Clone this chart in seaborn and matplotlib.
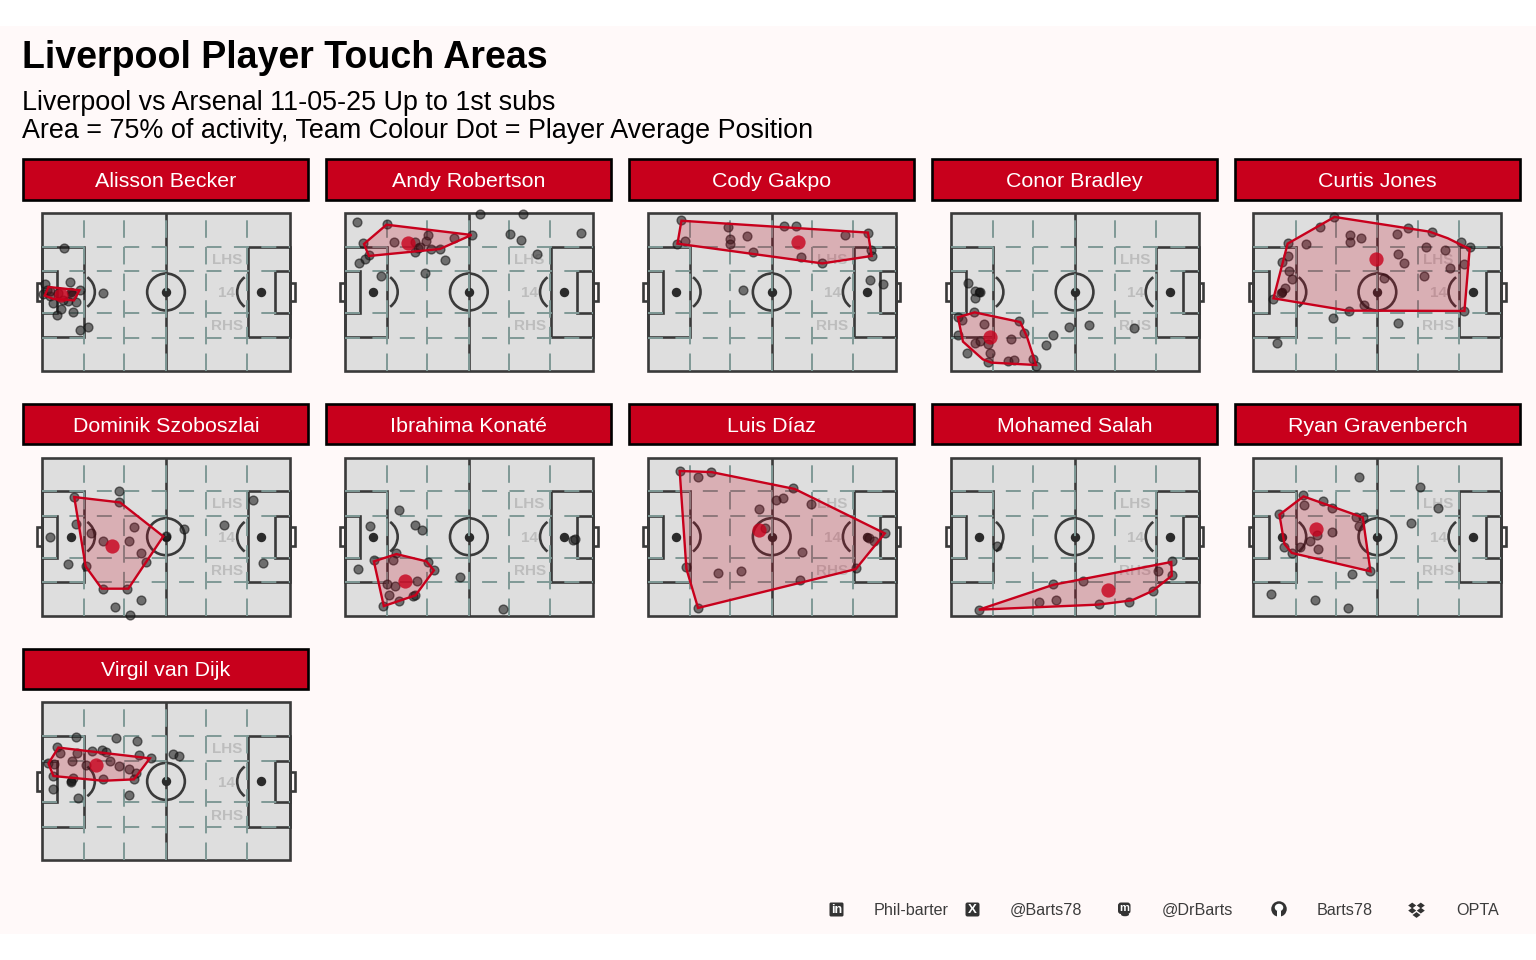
import matplotlib
matplotlib.use("Agg")
import matplotlib.pyplot as plt
import pandas as pd
import seaborn as sns
from matplotlib.patches import Arc, Ellipse, FancyBboxPatch, Polygon, Rectangle

# values, pitch is 0-100 both ways
players = ["Alisson Becker", "Andy Robertson", "Cody Gakpo", "Conor Bradley", "Curtis Jones",
           "Dominik Szoboszlai", "Ibrahima Konaté", "Luis Díaz", "Mohamed Salah", "Ryan Gravenberch",
           "Virgil van Dijk"]

alisson = [(8.9, 77.6), (11.3, 56.5), (24.5, 49.2), (15.3, 51.5), (1.3, 55.3), (0.3, 48.9), (3.2, 47.3),
           (5.9, 35.7), (7.5, 39.2), (12.6, 37.1), (13.7, 43.5), (15.3, 25.9), (18.5, 27.6), (4.6, 43),
           (10.6, 44.1), (8.6, 45.1), (1.9, 51.5), (6.6, 49.4), (12, 48.3), (3.2, 50.4)]
robertson = [(5.1, 94.1), (16.9, 93), (7.4, 80.8), (9.8, 73.4), (8.1, 70.7), (5.6, 68.6), (14.5, 60.1),
             (32.4, 62.2), (40.3, 70.3), (20, 81.6), (28.2, 81.9), (28.2, 75.5), (29.6, 77.6), (30.2, 78.7),
             (32.9, 82.3), (33.5, 85.9), (34.9, 77.4), (38.3, 77.4), (44, 84.2), (51.3, 86.1), (54.6, 99.6),
             (71.9, 99.6), (66.4, 86.9), (71, 82.9), (95.2, 87.1), (77.6, 74.3)]
gakpo = [(13.3, 95.6), (14.9, 82.5), (11.7, 80.4), (32.4, 90.9), (33.1, 83.3), (33.1, 80.4), (40.2, 85.2),
         (42.3, 75.1), (55.1, 92), (59.8, 92), (61.7, 72.4), (70.4, 68.1), (79.6, 86.1), (88.8, 87.6),
         (90.2, 76.6), (90.6, 72.8), (89.6, 57.6), (94.9, 54.9), (38.6, 51.3)]
bradley = [(7, 55.5), (9.9, 50.8), (11.7, 49.8), (9.7, 46), (9.4, 37.6), (3, 34), (4.6, 32.3), (13.6, 29.7),
           (27.4, 31.9), (29.6, 23.8), (3, 22.8), (9.9, 17.9), (11.7, 18.8), (15.1, 17.1), (24.2, 20),
           (16, 11.2), (6.6, 11.6), (15.1, 5.5), (23.1, 6.3), (25.4, 7), (33.2, 7.8), (34.5, 3.2), (38.3, 16.2),
           (41.5, 23), (47.6, 27.8), (56, 28.9), (73.8, 27.2)]
jones = [(32.3, 97.7), (27, 91.4), (14, 80.8), (21.2, 80.2), (13.8, 73), (11.6, 68.8), (14.4, 63.5), (15.5, 58),
         (12.8, 52.3), (11.2, 49.6), (7.9, 45.8), (39.1, 86.1), (38.8, 81.9), (43.5, 84.2), (58.1, 86.9),
         (62.5, 90.7), (71.9, 88.2), (83.7, 81.5), (87.4, 78.3), (69.6, 78.7), (77.4, 76.8), (58.3, 73.8),
         (60.6, 68.4), (85.1, 67.5), (79.3, 65), (68.7, 60.4), (52.8, 58.9), (38.6, 38), (44.5, 41.6),
         (84.9, 38), (32, 33.5), (58.2, 30.6), (9.4, 17.9)]
szoboszlai = [(31.2, 79.1), (30.9, 71.9), (13, 75.1), (13.8, 58.2), (19.6, 52.5), (3.2, 49.6), (24.7, 47),
              (35.1, 47), (37.1, 56.1), (39.9, 39.7), (41.9, 33.8), (57.3, 54.9), (49.9, 50.2), (10.6, 32.7),
              (17.7, 31.2), (24.7, 17.1), (34.4, 17.1), (39.8, 9.7), (29.4, 5.7), (35.3, 0.6), (73.3, 57.6),
              (84.9, 73), (89.2, 33.1)]
konate = [(21.8, 66.9), (10.2, 56.5), (28.4, 57.4), (31.2, 54.2), (20.8, 39.7), (19.4, 35), (11.8, 35), (5.4, 29.3),
          (33.7, 34), (35.9, 28.9), (46.4, 24.3), (28.9, 21.9), (17.1, 19.8), (20.2, 18.6), (17.7, 13.3),
          (21.9, 9.1), (27.3, 12.2), (28.2, 12.9), (15.5, 6.1), (63.6, 4.2), (91.8, 47.9), (92.9, 48.5)]
diaz = [(12.9, 91.6), (20.2, 87.6), (25.7, 90.9), (58.5, 80.8), (54.6, 74.3), (51.9, 73.4), (66, 70.5), (44.9, 67.3),
        (47.2, 55.5), (95.8, 52.1), (89.1, 49.2), (91.1, 47), (62.2, 40.1), (83.9, 30.2), (61.3, 22.8), (37.5, 28.1),
        (28.5, 26.8), (15.5, 30.8), (20.3, 4.9)]
salah = [(18.8, 43.9), (89.2, 34.4), (83.6, 28.1), (89.2, 25.5), (81.6, 15.8), (71.8, 8.6), (59.8, 7.4), (53.4, 21.7),
         (41.5, 20), (35.6, 8.6), (42.7, 10.1), (11.4, 3.8)]
gravenberch = [(42.5, 88), (67.1, 81.6), (74.3, 68.1), (63.4, 58.4), (20.2, 76.2), (20.6, 69.8), (28, 72.4),
               (31.7, 68.1), (10.5, 64.3), (41.3, 62.2), (44, 62.2), (42.7, 57), (31.7, 53.2), (25.5, 51.3),
               (22.7, 47), (18.8, 43.2), (26.2, 42.4), (12.5, 43.2), (15.5, 39.5), (39.8, 26.4), (47.2, 28.5),
               (7.1, 13.9), (24.9, 9.9), (38, 4.9)]
van_dijk = [(13.6, 78.4), (29.7, 77.5), (38.4, 75.8), (5.9, 72), (7.3, 67.8), (14.2, 67.8), (20, 69.1), (24.3, 69.9),
            (25.8, 68.4), (39.1, 66.7), (43.8, 64.6), (53, 67.2), (55.1, 66.1), (2.6, 61.4), (4.8, 61), (12, 62.9),
            (17.6, 60.4), (27.4, 62.7), (31, 59.7), (35.1, 57.6), (37.8, 55.1), (4.6, 53.4), (12.4, 51.9), (11.6, 49.8),
            (24.5, 51.3), (37.1, 51.3), (4.6, 44.9), (14.7, 39.6), (35.1, 41.7)]
touches = [alisson, robertson, gakpo, bradley, jones, szoboszlai, konate, diaz, salah, gravenberch, van_dijk]

# 75% area outlines
alisson_hull = [(2.6, 53.2), (15.1, 51.1), (12.9, 44.7), (4.6, 45.6), (1.1, 47.7)]
robertson_hull = [(16.8, 92.6), (51.1, 86.1), (38.3, 77.2), (9.7, 72.8), (7.7, 80.4)]
gakpo_hull = [(13.6, 95.1), (88.8, 87.6), (90.3, 72.8), (70.4, 68.1), (12, 80.6)]
bradley_hull = [(9.7, 37.1), (28.1, 31), (30.8, 21.7), (34.5, 3.8), (16.4, 5.3), (13, 7.4), (5, 18.6), (3, 34)]
jones_hull = [(32.7, 97.5), (71, 88.2), (78.4, 84), (87.2, 77.2), (85.1, 38), (38, 38.2), (8.1, 46), (13.8, 80.6)]
szoboszlai_hull = [(13, 75.1), (31.5, 71.7), (48.9, 50.2), (34.8, 17.1), (24.1, 17.1), (17.6, 31.2)]
konate_hull = [(11.7, 34.4), (20.8, 39), (32.9, 34.4), (35.9, 28.7), (28.5, 12.9), (15.7, 6.1)]
diaz_hull = [(12.9, 91.6), (25.7, 90.9), (59.3, 80.2), (95.6, 52.1), (83.9, 29.5), (20.3, 4.9), (15.6, 29.7)]
salah_hull = [(89, 34), (89.2, 25.3), (81.6, 15.8), (73.1, 9.7), (59.4, 7), (11.4, 3.8), (41.5, 19.6)]
gravenberch_hull = [(20.2, 75.5), (44.1, 62.2), (47.2, 28.1), (15.5, 39.7), (12.5, 45.4), (10.5, 63.9)]
van_dijk_hull = [(6.6, 71.4), (43.5, 64.6), (37.1, 51.3), (24.7, 50.4), (4.6, 53.4), (2.6, 61.4)]
hulls = [alisson_hull, robertson_hull, gakpo_hull, bradley_hull, jones_hull, szoboszlai_hull, konate_hull,
         diaz_hull, salah_hull, gravenberch_hull, van_dijk_hull]

avg_x = [7.7, 25.3, 60.8, 16.1, 49.6, 28.2, 24.3, 44.8, 63.6, 25.4, 21.6]
avg_y = [48.3, 80.8, 81.9, 21.3, 70.7, 44.1, 22.2, 54.4, 16.5, 55.1, 60.2]

title = "Liverpool Player Touch Areas"
subtitle = "Liverpool vs Arsenal 11-05-25 Up to 1st subs\nArea = 75% of activity, Team Colour Dot = Player Average Position"
credits = ["Phil-barter", "@Barts78", "@DrBarts", "Barts78", "OPTA"]

RED = "#C8001C"
BG = "#FFF9F9"
LINE = "#3A3A3A"
GUIDE = "#7F9996"

sns.set_theme(style="white")
plt.rcParams["font.family"] = ["Liberation Sans", "DejaVu Sans"]

df = pd.concat([pd.DataFrame(t, columns=["x", "y"]).assign(player=p) for p, t in zip(players, touches)])


def draw_pitch(ax):
    ax.add_patch(Rectangle((0, 0), 100, 100, fc="#DEDEDE", ec="none", zorder=1))
    kw = dict(fc="none", ec=LINE, lw=1.9, clip_on=False, zorder=2)
    for left, w in [(0, 17), (83, 17)]:
        ax.add_patch(Rectangle((left, 21.3), w, 57.4, **kw))
    for left, w in [(0, 6.2), (93.8, 6.2)]:
        ax.add_patch(Rectangle((left, 36.8), w, 26.4, **kw))
    for left in [-1.9, 100]:
        ax.add_patch(Rectangle((left, 44), 1.9, 12, **kw))
    ax.add_patch(Rectangle((0, 0), 100, 100, **kw))
    ax.plot([50, 50], [0, 100], color=LINE, lw=1.9, zorder=2)
    ax.add_patch(Ellipse((50, 50), 15.2, 23.4, **kw))
    ax.add_patch(Arc((13.7, 50), 15.2, 23.4, theta1=-64, theta2=64, ec=LINE, lw=1.9, zorder=2))
    ax.add_patch(Arc((86.3, 50), 15.2, 23.4, theta1=116, theta2=244, ec=LINE, lw=1.9, zorder=2))
    ax.scatter([11.5, 50, 88.5], [50, 50, 50], s=46, color="#2B2B2B", linewidths=0, zorder=2)
    # dashed guides sit over the markings
    for gx in [17, 33.2, 50, 66.3, 82.8]:
        ax.plot([gx, gx], [0, 100], color=GUIDE, lw=1.4, ls=(0, (9, 4.7)), dash_capstyle="butt", zorder=3)
    for gy in [21.2, 36.8, 63.2, 78.7]:
        ax.plot([0, 100], [gy, gy], color=GUIDE, lw=1.4, ls=(0, (7.7, 6.4)), dash_capstyle="butt", zorder=3)
    for label, gy in [("LHS", 70.4), ("14", 49.2), ("RHS", 28.4)]:
        ax.text(74.5, gy, label, color="#BDBDBD", fontsize=11, fontweight="bold", ha="center", va="center", zorder=4)


def draw_panel(data, **kws):
    ax = plt.gca()
    i = players.index(data["player"].iloc[0])
    draw_pitch(ax)
    sns.scatterplot(data=data, x="x", y="y", ax=ax, s=40, color="#1E1E1E", alpha=0.58, edgecolor="#111111",
                    linewidth=1.0, clip_on=False, legend=False, zorder=5)
    hx, hy = zip(*hulls[i])
    ax.fill(hx, hy, fc=RED, alpha=0.21, ec="none", zorder=6)
    ax.fill(hx, hy, fc="none", ec=RED, lw=1.7, joinstyle="miter", zorder=7)
    sns.scatterplot(x=[avg_x[i]], y=[avg_y[i]], ax=ax, s=105, color=RED, alpha=0.8, linewidth=0,
                    clip_on=False, legend=False, zorder=8)


g = sns.FacetGrid(df, col="player", col_order=players, col_wrap=5, sharex=False, sharey=False, height=2, aspect=1.5)
g.map_dataframe(draw_panel)
fig = g.figure
fig.set_size_inches(15.36, 9.6)
fig.patch.set_facecolor("white")

# page layer in pixels, everything that is not a pitch goes here
page = fig.add_axes([0, 0, 1, 1], zorder=-1)
page.set_xlim(0, 1536)
page.set_ylim(960, 0)
page.set_axis_off()
page.add_patch(Rectangle((0, 26), 1536, 908, fc=BG, ec="none"))

page.text(22, 57.5, title, fontsize=27, fontweight="bold", color="black", va="center")
page.text(22, 117, subtitle, fontsize=19.4, color="black", va="center", linespacing=1.08)

for i, (ax, name) in enumerate(zip(g.axes.flat, players)):
    col, row = i % 5, i // 5
    left = 42 + col * 302.85
    top = 213 + row * 244.7
    ax.set_position([left / 1536, 1 - (top + 158) / 960, 248 / 1536, 158 / 960])
    ax.set_xlim(0, 100)
    ax.set_ylim(0, 100)
    ax.set_title("")
    ax.set_axis_off()
    page.add_patch(Rectangle((left - 18.7, top - 53.9), 285, 40.4, fc=RED, ec="black", lw=1.9))
    page.text(left + 124, top - 31.5, name, color="white", fontsize=15.4, ha="center", va="center")

# footer: icons are drawn by hand, there is no brand font here
ICON = "#333333"
page.add_patch(FancyBboxPatch((829.5, 902.5), 14, 14, boxstyle="round,pad=0,rounding_size=1.5", fc=ICON, ec="none"))
page.text(836.5, 910, "in", color="white", fontsize=9, fontweight="bold", ha="center", va="center")
page.add_patch(FancyBboxPatch((965.5, 902.5), 14, 14, boxstyle="round,pad=0,rounding_size=2", fc=ICON, ec="none"))
page.text(972.5, 910, "X", color="white", fontsize=9.5, fontweight="bold", ha="center", va="center")
page.add_patch(FancyBboxPatch((1118, 902.5), 12.5, 11.5, boxstyle="round,pad=0,rounding_size=3", fc=ICON, ec="none"))
page.add_patch(Ellipse((1125, 914.5), 8, 3.5, fc=ICON, ec="none"))
page.text(1124.2, 908.4, "m", color="white", fontsize=8, fontweight="bold", ha="center", va="center")
page.add_patch(Ellipse((1279, 909), 15.5, 15.5, fc=ICON, ec="none"))
page.add_patch(Ellipse((1279, 907.5), 8.5, 7.5, fc="white", ec="none"))
page.add_patch(Rectangle((1277, 911), 4, 6, fc="white", ec="none"))
for cx, cy in [(1412.2, 905.5), (1420.8, 905.5), (1412.2, 910.6), (1420.8, 910.6), (1416.5, 915)]:
    page.add_patch(Polygon([(cx - 4, cy), (cx, cy - 2.9), (cx + 4, cy), (cx, cy + 2.9)], fc=ICON, ec="none"))

for label, x in zip(credits, [874, 1010, 1162, 1317, 1456]):
    page.text(x, 910.5, label, color="#3C3C3C", fontsize=11.6, va="center")

fig.savefig("out.png", dpi=100, facecolor="white")
